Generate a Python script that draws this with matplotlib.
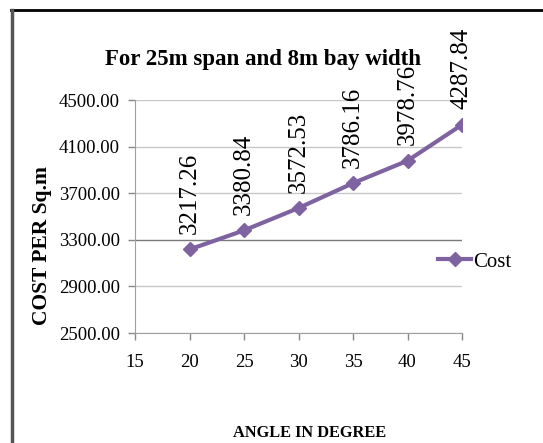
import matplotlib
matplotlib.use("Agg")
import matplotlib.pyplot as plt
from matplotlib.lines import Line2D

angles = [20, 25, 30, 35, 40, 45]
cost = [3217.26, 3380.84, 3572.53, 3786.16, 3978.76, 4287.84]
yticks = [2500, 2900, 3300, 3700, 4100, 4500]
xticks = [15, 20, 25, 30, 35, 40, 45]

plt.rcParams['font.family'] = ['Liberation Serif', 'DejaVu Serif']

W, H = 543, 443
fig = plt.figure(figsize=(W / 100, H / 100), dpi=100)
ax = fig.add_axes([135 / W, 1 - 333 / H, (462 - 135) / W, (333 - 100) / H])

purple = '#7F63A1'
ax.plot(angles, cost, color=purple, lw=3, marker='D', ms=7,
        markeredgecolor=purple, markerfacecolor=purple, zorder=3, label='Cost')

for a, c in zip(angles, cost):
    ax.annotate(f"{c:.2f}", (a, c), xytext=(0, 11), textcoords='offset points',
                rotation=90, ha='center', va='bottom', fontsize=18, zorder=4)

ax.set_xlim(15, 45)
ax.set_ylim(2500, 4500)
ax.set_xticks(xticks)
ax.set_yticks(yticks)
ax.set_yticklabels([f"{v:.2f}" for v in yticks])
ax.tick_params(axis='both', labelsize=13.5, colors='#888888', labelcolor='black',
               length=5, width=1)
ax.tick_params(axis='x', pad=10)
ax.tick_params(axis='y', pad=6)

ax.grid(axis='y', color='#C8C8C8', lw=1)
for gl, v in zip(ax.get_ygridlines(), yticks):
    if v == 3300:
        gl.set_color('#7A7A7A')
ax.set_axisbelow(True)

for s in ['top', 'right']:
    ax.spines[s].set_visible(False)
for s in ['left', 'bottom']:
    ax.spines[s].set_color('#A0A0A0')

fig.text(263 / W, 1 - 60 / H, 'For 25m span and 8m bay width', ha='center',
         va='center', fontsize=16.5, fontweight='bold')
fig.text(310 / W, 1 - 433 / H, 'ANGLE IN DEGREE', ha='center', va='center',
         fontsize=11.8, fontweight='bold')
fig.text(42 / W, 1 - 246 / H, 'COST PER Sq.m', ha='center', va='center',
         rotation=90, fontsize=15.5, fontweight='bold')

leg = fig.legend(handles=[Line2D([], [], color=purple, lw=3, marker='D', ms=7)],
                 labels=['Cost'], loc='center left',
                 bbox_to_anchor=(438 / W, 1 - 262 / H), frameon=False,
                 fontsize=15, handlelength=1.6, handletextpad=0.1,
                 borderaxespad=0, borderpad=0)

# outer frame
fig.add_artist(Line2D([11 / W, 1], [1 - 10 / H, 1 - 10 / H], color='black', lw=2,
                      transform=fig.transFigure))
fig.add_artist(Line2D([12 / W, 12 / W], [0, 1 - 10 / H], color='#555555', lw=2.5,
                      transform=fig.transFigure))

fig.savefig('out.png', dpi=100)
